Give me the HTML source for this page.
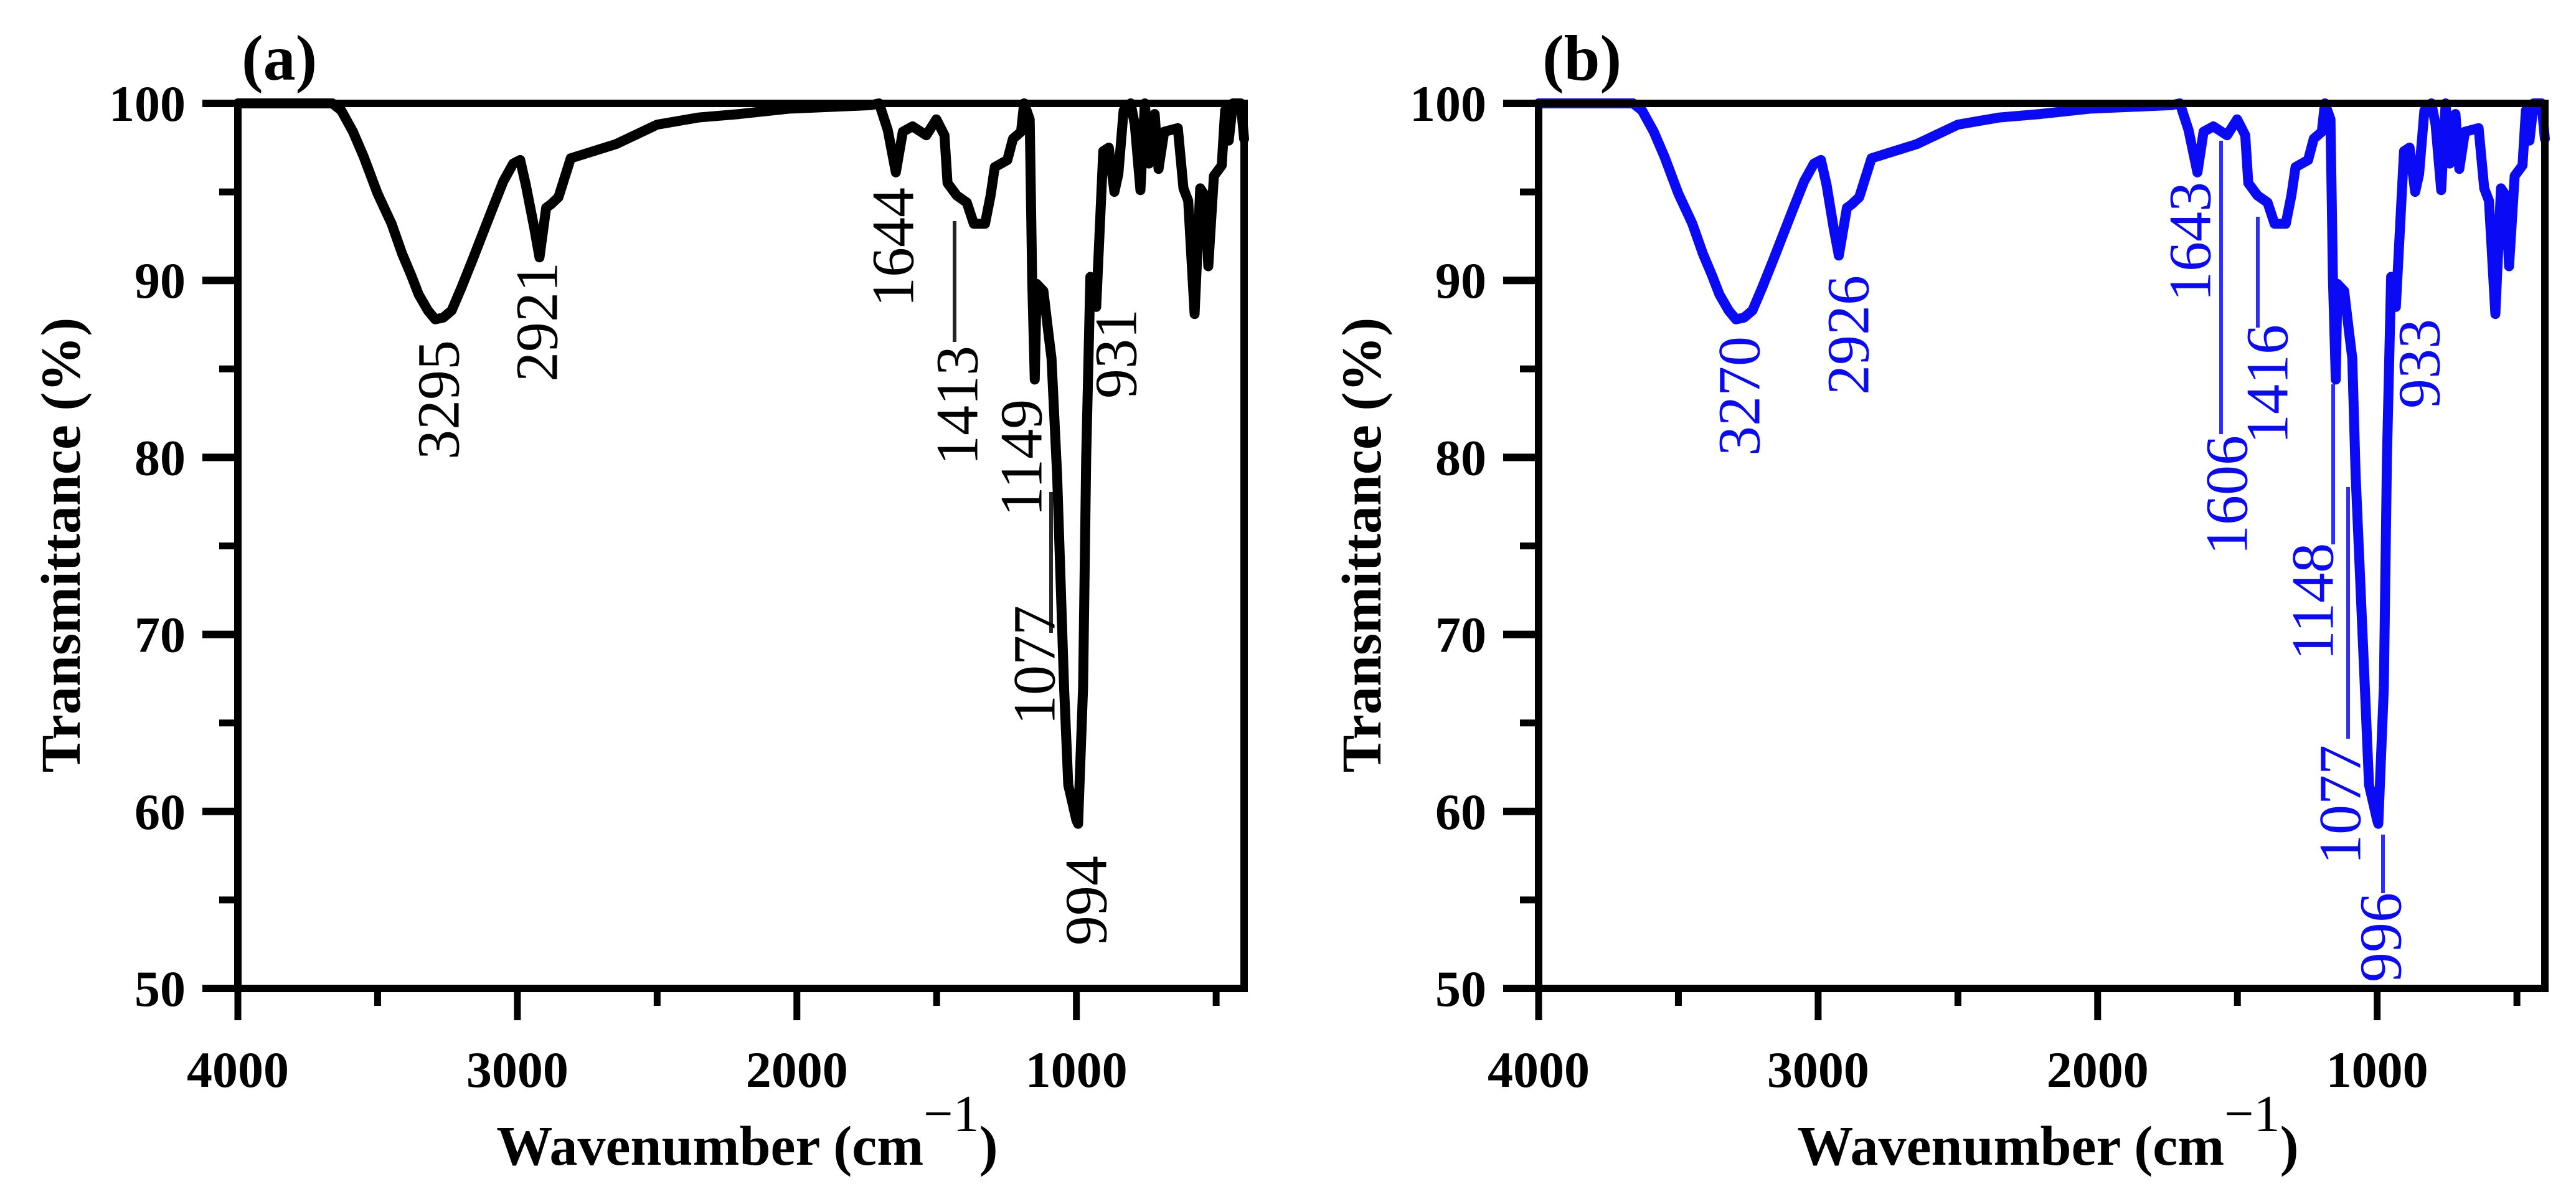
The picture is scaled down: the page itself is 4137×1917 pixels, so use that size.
<!DOCTYPE html>
<html><head><meta charset="utf-8">
<style>
html,body{margin:0;padding:0;background:#fff;}
svg{display:block;}
text{font-family:"Liberation Serif",serif;}
</style></head>
<body>
<svg id="chart" width="4137" height="1917" viewBox="0 0 4137 1917" xmlns="http://www.w3.org/2000/svg"></svg>
<script>
// ---- data ----
const xTicks = [4000, 3000, 2000, 1000];
const xMinorTicks = [3500, 2500, 1500, 500];
const yTicks = [50, 60, 70, 80, 90, 100];
const yMinorTicks = [55, 65, 75, 85, 95];
const spectrumA = [[4000,100],[3662,100],[3630,99.6],[3588,98.4],[3550,97],[3500,94.9],[3450,93.2],[3412,91.5],[3380,90.3],[3353,89.2],[3320,88.3],[3294,87.8],[3265,87.9],[3235,88.3],[3200,89.6],[3162,91.1],[3120,92.8],[3088,94.1],[3050,95.6],[3015,96.6],[2990,96.8],[2970,95.4],[2940,93],[2921,91.3],[2897,94.1],[2880,94.3],[2853,94.7],[2809,96.9],[2647,97.7],[2500,98.8],[2353,99.2],[2206,99.4],[2030,99.7],[1735,99.9],[1706,100],[1675,98.5],[1646,96.1],[1621,98.4],[1586,98.7],[1537,98.2],[1501,99.1],[1472,98.2],[1461,95.5],[1428,94.8],[1392,94.4],[1367,93.2],[1327,93.2],[1307,94.8],[1292,96.4],[1247,96.8],[1227,98.0],[1198,98.4],[1187,100],[1167,99.1],[1158,90],[1149,84.4],[1142,89.8],[1118,89.4],[1100,87],[1089,85.6],[1069,79],[1044,67],[1029,61.5],[1000,59.5],[994,59.3],[976,67],[965,80],[950,90.2],[929,88.5],[904,97.3],[884,97.5],[864,95],[850,96],[831,99.6],[806,100],[791,98.8],[771,95.1],[755,100],[740,96.6],[720,99.4],[706,96.3],[686,98.4],[637,98.6],[617,95.2],[600,94.5],[577,88.1],[557,95.2],[540,94.8],[528,90.8],[508,95.9],[480,96.5],[468,99.6],[455,97.9],[440,100],[412,100],[400,98]];
const spectrumB = [[4000,100],[3662,100],[3630,99.6],[3588,98.4],[3550,97],[3500,94.9],[3450,93.2],[3412,91.5],[3380,90.3],[3353,89.2],[3320,88.3],[3294,87.8],[3265,87.9],[3235,88.3],[3200,89.6],[3162,91.1],[3120,92.8],[3088,94.1],[3050,95.6],[3015,96.6],[2990,96.8],[2970,95.4],[2945,93],[2926,91.4],[2897,94.1],[2880,94.3],[2853,94.7],[2809,96.9],[2647,97.7],[2500,98.8],[2353,99.2],[2206,99.4],[2030,99.7],[1735,99.9],[1706,100],[1675,98.5],[1643,96.1],[1621,98.4],[1586,98.7],[1537,98.2],[1501,99.1],[1472,98.2],[1461,95.5],[1428,94.8],[1392,94.4],[1367,93.2],[1327,93.2],[1307,94.8],[1292,96.4],[1247,96.8],[1227,98.0],[1198,98.4],[1187,100],[1167,99.1],[1158,90],[1148,84.4],[1142,89.8],[1118,89.4],[1100,87],[1089,85.6],[1077,79],[1044,67],[1029,61.5],[1000,59.5],[996,59.3],[976,67],[965,80],[950,90.2],[933,88.5],[904,97.3],[884,97.5],[864,95],[850,96],[831,99.6],[806,100],[791,98.8],[771,95.1],[755,100],[740,96.6],[720,99.4],[706,96.3],[686,98.4],[637,98.6],[617,95.2],[600,94.5],[577,88.1],[557,95.2],[540,94.8],[528,90.8],[508,95.9],[480,96.5],[468,99.6],[455,97.9],[440,100],[412,100],[400,98]];
const peakLabelsA = ["3295","2921","1644","1413","1149","1077","994","931"];
const peakLabelsB = ["3270","2926","1643","1606","1416","1148","1077","996","933"];

const NS = "http://www.w3.org/2000/svg";
const svg = document.getElementById('chart');
function mk(tag, attrs, parent){const e=document.createElementNS(NS,tag);for(const k in attrs)e.setAttribute(k,attrs[k]);(parent||svg).appendChild(e);return e;}

function drawPanel(left, panelId, data, color, labels, labelPos, leaders, tag){
  const top=166, bottom=1587, right=left+1616;
  const xs = wn => left + (4000 - wn) / 3600 * (right - left);
  const ys = t => bottom - (t - 50) / 50 * (bottom - top);
  const g = mk('g', {});
  
  
  let d = '';
  data.forEach((p,i)=>{ d += (i?'L':'M') + xs(p[0]).toFixed(1) + ' ' + ys(p[1]).toFixed(1); });
  const path = mk('path', {d:d, fill:'none', stroke:color, 'stroke-width':16, 'stroke-linejoin':'round', 'stroke-linecap':'round'}, g);
  
  
  const fr = mk('rect', {x:left, y:top, width:right-left, height:bottom-top, fill:'none', stroke:'#000', 'stroke-width':12}, g);
  
  
  yTicks.forEach(v=>{
    const t = mk('line', {x1:left-57, x2:left, y1:ys(v), y2:ys(v), stroke:'#000', 'stroke-width':12}, g);
    
    
    const lb = mk('text', {x:left-84, y:ys(v)+28, 'text-anchor':'end', 'font-size':82, 'font-weight':'bold'}, g);
    
    
    lb.textContent = v;
  });
  yMinorTicks.forEach(v=>{
    const t = mk('line', {x1:left-30, x2:left, y1:ys(v), y2:ys(v), stroke:'#000', 'stroke-width':11}, g);
    
    
  });
  xTicks.forEach(v=>{
    const t = mk('line', {x1:xs(v), x2:xs(v), y1:bottom, y2:bottom+51, stroke:'#000', 'stroke-width':11}, g);
    
    
    const lb = mk('text', {x:xs(v), y:1745, 'text-anchor':'middle', 'font-size':82, 'font-weight':'bold'}, g);
    
    
    lb.textContent = v;
  });
  xMinorTicks.forEach(v=>{
    const t = mk('line', {x1:xs(v), x2:xs(v), y1:bottom, y2:bottom+28, stroke:'#000', 'stroke-width':11}, g);
    
    
  });
  const pt = mk('text', {x:left+6, y:128, 'font-size':104, 'font-weight':'bold'}, g);
  
  
  pt.textContent = tag;
  const yt = mk('text', {x:0, y:0, transform:`translate(${left-254},875) rotate(-90)`, 'text-anchor':'middle', 'font-size':90, 'font-weight':'bold'}, g);
  
  
  yt.textContent = 'Transmittance (%)';
  const xt = mk('text', {x:(left+right)/2+10, y:1870, 'text-anchor':'middle', 'font-size':90, 'font-weight':'bold'}, g);
  
  
  xt.innerHTML = 'Wavenumber (cm<tspan dy="-54" font-weight="normal" font-size="84">−1</tspan><tspan dy="54">)</tspan>';
  leaders.forEach(l=>{
    const ln = mk('line', {x1:l[0], x2:l[0], y1:l[1], y2:l[2], stroke:color, 'stroke-width':6, opacity:0.85}, g);
    
    
  });
  labels.forEach((s,i)=>{
    const p = labelPos[i];
    const t = mk('text', {x:0, y:0, transform:`translate(${p[0]},${p[1]}) rotate(-90)`, 'text-anchor':'middle', 'dominant-baseline':'central', 'font-size':96, fill:color}, g);
    
    
    t.textContent = s;
  });
}

drawPanel(382, 'panel-a', spectrumA, '#000', peakLabelsA,
  [[704,642],[862,517],[1434,397],[1537,651],[1640,735],[1661,1068],[1744,1446],[1792,568]],
  [[1533,355,549],[1688,790,1016]], '(a)');
drawPanel(2471, 'panel-b', spectrumB, '#0a0af5', peakLabelsB,
  [[2793,636],[2968,538],[3517,388],[3576,795],[3641,617],[3714,966],[3758,1292],[3823,1505],[3885,584]],
  [[3567,226,697],[3626,348,526],[3747,617,874],[3771,782,1186],[3827,1340,1434]], '(b)');
</script>
</body></html>
